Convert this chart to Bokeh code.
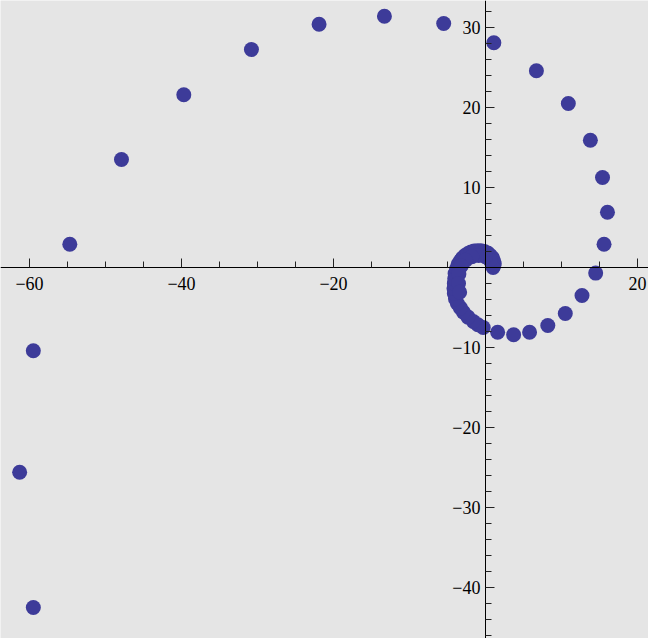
from bokeh.plotting import figure
from bokeh.models import FixedTicker, Range1d
from bokeh.embed import file_html
from bokeh.resources import INLINE

# spiral points
xs = [-59.5, -61.3, -59.5, -54.7, -47.9, -39.7, -30.8, -21.9, -13.3, -5.5,
      1.1, 6.7, 10.9, 13.8, 15.4, 16.05, 15.6, 14.5, 12.7, 10.5,
      8.2, 5.8, 3.7, 1.6, -0.3, -1.0, -1.6, -2.3, -2.9, -3.3, -3.7, -3.95, -4.1, -4.15, -4.1,
      -4.05, -4.0, -3.8, -3.6, -3.3, -3.0, -2.7, -2.3, -1.9, -1.5, -1.05, -0.6, -0.15, 0.3, 0.65, 0.9, 1.05, 1.15, 1.1, 1.0,
      0.6, 0.0, -0.9, -1.8, -2.6, -3.2, -3.5, -3.55, -3.4]
ys = [-42.5, -25.6, -10.4, 2.9, 13.5, 21.6, 27.25, 30.4, 31.4, 30.5,
      28.1, 24.6, 20.5, 15.9, 11.25, 6.9, 2.9, -0.7, -3.5, -5.75,
      -7.25, -8.1, -8.4, -8.1, -7.5, -7.15, -6.75, -6.2, -5.6, -5.05, -4.5, -3.9, -3.25, -2.6, -2.0,
      -1.4, -0.75, -0.15, 0.4, 0.85, 1.2, 1.5, 1.75, 1.95, 2.05, 2.1, 2.1, 2.0, 1.8, 1.5, 1.2, 0.85, 0.5, 0.25, 0.0,
      0.9, 1.35, 1.5, 1.35, 0.9, 0.2, -0.8, -2.0, -3.1]

x_major = [-60, -40, -20, 20]
x_minor = [-55, -50, -45, -35, -30, -25, -15, -10, -5, 5, 10, 15]
y_major = [-40, -30, -20, -10, 10, 20, 30]
y_minor = [-46, -44, -42, -38, -36, -34, -32, -28, -26, -24, -22, -18, -16, -14, -12,
           -8, -6, -4, -2, 2, 4, 6, 8, 12, 14, 16, 18, 22, 24, 26, 28, 32]

p = figure(width=648, height=638, output_backend="svg", toolbar_location=None,
           x_range=Range1d(-63.82, 21.45), y_range=Range1d(-46.375, 33.375),
           min_border=0, background_fill_color="#e5e5e5",
           border_fill_color="#e5e5e5", outline_line_color=None)
p.grid.visible = False

p.scatter(xs, ys, size=15, fill_color="#3d3b99", line_color=None)

lab_font = "Liberation Serif"
for ax, major, minor in ((p.xaxis[0], x_major, x_minor), (p.yaxis[0], y_major, y_minor)):
    ax.fixed_location = 0
    ax.ticker = FixedTicker(ticks=major, minor_ticks=minor)
    ax.major_label_overrides = {v: ("\u2212" + str(-v) if v < 0 else str(v)) for v in major}
    ax.major_label_text_font = lab_font
    ax.major_label_text_font_size = "18px"
    ax.major_label_text_color = "black"
    ax.axis_line_color = "black"
    ax.axis_line_width = 1
    ax.major_tick_line_color = "#222222"
    ax.minor_tick_line_color = "#222222"
    ax.major_tick_in = 9
    ax.major_tick_out = 0
    ax.minor_tick_in = 6
    ax.minor_tick_out = 0

p.xaxis[0].major_label_standoff = 9
p.yaxis[0].major_label_standoff = 5

open("out.html", "w").write(file_html(p, INLINE))
